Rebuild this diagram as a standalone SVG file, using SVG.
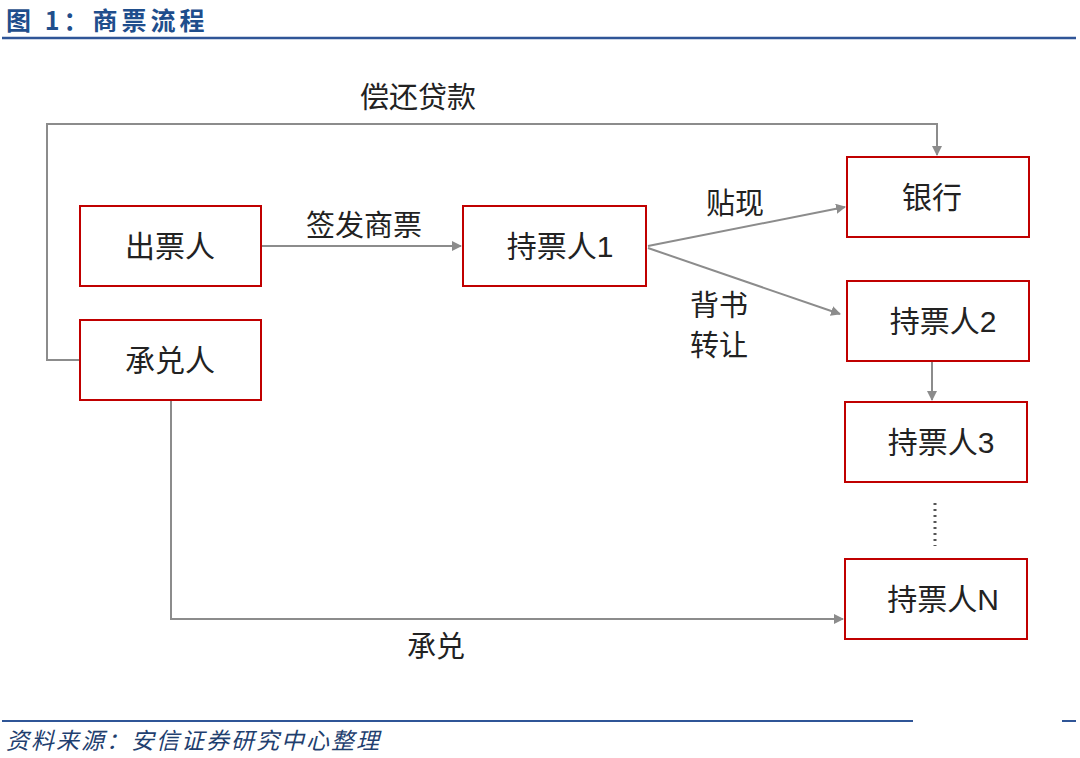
<svg xmlns="http://www.w3.org/2000/svg" width="1080" height="758" viewBox="0 0 1080 758">
<style>
.box{fill:#fff;stroke:#c00000;stroke-width:2}
.t{font-family:"Liberation Sans","Noto Sans CJK SC",sans-serif;font-size:30px;fill:#222;text-anchor:middle}
.l{font-family:"Liberation Sans","Noto Sans CJK SC",sans-serif;font-size:29px;fill:#222}
.c{fill:none;stroke:#8c8c8c;stroke-width:2}
</style>
<defs><marker id="a" markerWidth="10" markerHeight="10" refX="9" refY="5" orient="auto" markerUnits="userSpaceOnUse"><path d="M0,0 L10,5 L0,10 z" fill="#8c8c8c"/></marker></defs>
<rect width="1080" height="758" fill="#fff"/>
<text x="6" y="30" font-family="'Noto Sans CJK SC',sans-serif" font-size="25" font-weight="bold" letter-spacing="4" fill="#1f4e8c">图 1：商票流程</text>
<line x1="2" y1="38" x2="1076" y2="38" stroke="#2f5597" stroke-width="2.5"/>
<line x1="2" y1="721" x2="913" y2="721" stroke="#2f5597" stroke-width="2"/>
<line x1="1062" y1="721" x2="1076" y2="721" stroke="#2f5597" stroke-width="2"/>
<text x="6" y="749" font-family="'Noto Sans CJK SC',serif" font-size="23" font-style="italic" letter-spacing="2" fill="#1f3f6f">资料来源：安信证券研究中心整理</text>
<g id="connectors">
<polyline class="c" points="80,360 47,360 47,124 937,124 937,155" marker-end="url(#a)"/>
<line class="c" x1="262" y1="246" x2="461" y2="246" marker-end="url(#a)"/>
<line class="c" x1="648" y1="246" x2="845" y2="207" marker-end="url(#a)"/>
<line class="c" x1="648" y1="248" x2="840" y2="314" marker-end="url(#a)"/>
<line class="c" x1="932" y1="362" x2="932" y2="400" marker-end="url(#a)"/>
<line x1="935" y1="503" x2="935" y2="546" stroke="#555" stroke-width="3" stroke-dasharray="2,4"/>
<polyline class="c" points="171,401 171,619 843,619" marker-end="url(#a)"/>
</g>
<text class="l" x="360" y="108">偿还贷款</text>
<text class="l" x="306" y="236">签发商票</text>
<text class="l" x="706" y="214">贴现</text>
<text class="l" x="690" y="316">背书</text>
<text class="l" x="690" y="356">转让</text>
<text class="l" x="407" y="657">承兑</text>
<g id="n1"><rect class="box" x="80" y="206" width="181" height="80"/><text class="t" x="170" y="257">出票人</text></g>
<g id="n2"><rect class="box" x="80" y="320" width="181" height="80"/><text class="t" x="170" y="371">承兑人</text></g>
<g id="n3"><rect class="box" x="463" y="206" width="183" height="80"/><text class="t" x="560" y="257">持票人1</text></g>
<g id="n4"><rect class="box" x="847" y="157" width="182" height="80"/><text class="t" x="932" y="208">银行</text></g>
<g id="n5"><rect class="box" x="847" y="281" width="182" height="80"/><text class="t" x="943" y="332">持票人2</text></g>
<g id="n6"><rect class="box" x="845" y="402" width="182" height="80"/><text class="t" x="941" y="453">持票人3</text></g>
<g id="n7"><rect class="box" x="845" y="559" width="182" height="80"/><text class="t" x="943" y="610">持票人N</text></g>
</svg>
